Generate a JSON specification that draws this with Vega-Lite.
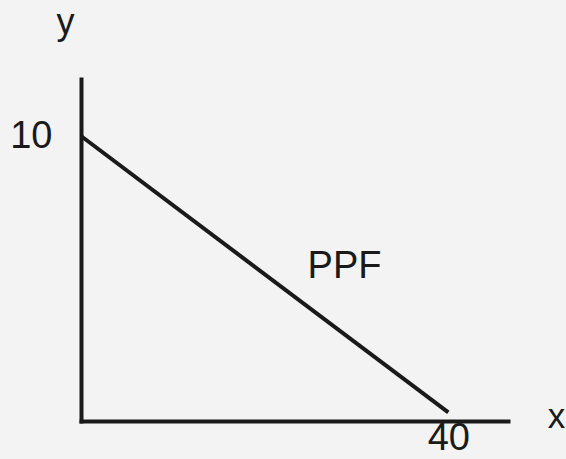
{
  "$schema": "https://vega.github.io/schema/vega-lite/v6.json",
  "autosize": {"type": "none"},
  "width": 427,
  "height": 342,
  "padding": {"left": 81, "top": 79, "right": 58, "bottom": 38},
  "background": "#f3f3f3",
  "config": {
    "view": {"stroke": null},
    "font": "Liberation Sans",
    "axis": {
      "grid": false,
      "ticks": false,
      "domainColor": "#1a1a1a",
      "domainWidth": 4,
      "domainCap": "square",
      "labelColor": "#1a1a1a",
      "titleColor": "#1a1a1a",
      "labelFont": "Liberation Sans",
      "titleFont": "Liberation Sans",
      "labelFontWeight": "normal",
      "titleFontWeight": "normal"
    }
  },
  "datasets": {
    "ppf": [
      {"x": 0, "y": 10},
      {"x": 40, "y": 0.3}
    ],
    "labels": [
      {"label": "PPF", "x": 28.7, "y": 5.4}
    ]
  },
  "layer": [
    {
      "data": {"name": "ppf"},
      "mark": {"type": "line", "color": "#1a1a1a", "strokeWidth": 4},
      "encoding": {
        "x": {
          "field": "x", "type": "quantitative",
          "scale": {"domain": [0, 46.5], "nice": false, "zero": false},
          "axis": {
            "values": [40],
            "labelFontSize": 38,
            "labelPadding": -2,
            "labelBaseline": "top",
            "title": "x",
            "titleFontSize": 35,
            "titleAnchor": null,
            "titleX": 475,
            "titleY": -5,
            "titleAlign": "center",
            "titleBaseline": "middle"
          }
        },
        "y": {
          "field": "y", "type": "quantitative",
          "scale": {"domain": [0, 12], "nice": false, "zero": false},
          "axis": {
            "values": [10],
            "labelFontSize": 38,
            "labelPadding": 29,
            "labelBaseline": "middle",
            "title": "y",
            "titleFontSize": 36,
            "titleAngle": 0,
            "titleAnchor": null,
            "titleX": -16,
            "titleY": -46,
            "titleAlign": "center",
            "titleBaseline": "alphabetic"
          }
        }
      }
    },
    {
      "data": {"name": "labels"},
      "mark": {"type": "text", "fontSize": 38, "color": "#1a1a1a", "align": "center", "baseline": "middle"},
      "encoding": {
        "x": {"field": "x", "type": "quantitative"},
        "y": {"field": "y", "type": "quantitative"},
        "text": {"field": "label"}
      }
    }
  ]
}
